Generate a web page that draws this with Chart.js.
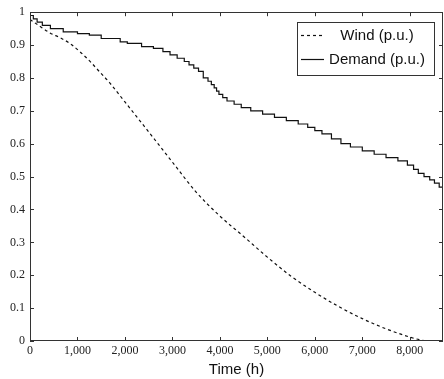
<!DOCTYPE html>
<html>
<head>
<meta charset="utf-8">
<script src="https://cdn.jsdelivr.net/npm/chart.js@4/dist/chart.umd.min.js"></script>
<style>
  html, body { margin: 0; padding: 0; background: #fff; }
  #wrap { width: 444px; height: 379px; }
</style>
</head>
<body>
<div id="wrap"><canvas id="durationChart"></canvas></div>
<script>
// duration curves, hours sorted by value (p.u.)
const windHours = [0, 200, 420, 640, 840, 1050, 1260, 1470, 1680, 2000, 2500, 3000, 3500,
    4000, 4500, 5000, 5500, 6000, 6500, 7000, 7500, 8000, 8200, 8400, 8700];
const windValues = [0.978, 0.958, 0.937, 0.922, 0.905, 0.88, 0.851, 0.818, 0.785, 0.727, 0.636, 0.544, 0.453,
    0.38, 0.318, 0.255, 0.197, 0.148, 0.105, 0.068, 0.037, 0.012, 0.004, 0.0, 0.0];

const demandHours = [0, 70, 150, 260, 430, 700, 1000, 1250, 1500, 1900, 2050, 2350, 2600, 2800, 2950, 3100, 3250, 3350,
    3450, 3550, 3650, 3750, 3820, 3880, 3930, 3980, 4060, 4150, 4300, 4450, 4650, 4900, 5150, 5400, 5650, 5850, 6000,
    6150, 6350, 6550, 6750, 7000, 7250, 7500, 7750, 7950, 8080, 8180, 8300, 8420, 8520, 8620, 8680];
const demandValues = [1.0, 0.99, 0.98, 0.97, 0.96, 0.95, 0.94, 0.935, 0.93, 0.92, 0.91, 0.905, 0.895, 0.89, 0.88, 0.87, 0.86, 0.85,
    0.84, 0.83, 0.82, 0.8, 0.79, 0.78, 0.77, 0.76, 0.75, 0.74, 0.73, 0.72, 0.71, 0.7, 0.69, 0.68, 0.67, 0.66, 0.65,
    0.64, 0.63, 0.615, 0.6, 0.59, 0.578, 0.568, 0.558, 0.548, 0.535, 0.522, 0.51, 0.5, 0.49, 0.48, 0.468];

const xMax = 8700;
const xTicks = [0, 1000, 2000, 3000, 4000, 5000, 6000, 7000, 8000];
const yTicks = [0, 0.1, 0.2, 0.3, 0.4, 0.5, 0.6, 0.7, 0.8, 0.9, 1];

const serif = '"Liberation Serif", "DejaVu Serif", serif';
const sans = '"Liberation Sans", "DejaVu Sans", sans-serif';

function toPoints(xs, ys) {
    return xs.map((h, i) => ({ x: h, y: ys[i] }));
}

// box round the plot with short inward ticks on every side
const frameTicks = {
    id: 'frameTicks',
    afterDatasetsDraw(chart) {
        const { ctx, chartArea: a, scales } = chart;
        ctx.save();
        ctx.strokeStyle = '#333';
        ctx.lineWidth = 1;
        ctx.beginPath();
        scales.x.ticks.forEach(t => {
            const px = Math.round(scales.x.getPixelForValue(t.value)) + 0.5;
            ctx.moveTo(px, a.bottom); ctx.lineTo(px, a.bottom - 4);
            ctx.moveTo(px, a.top); ctx.lineTo(px, a.top + 4);
        });
        scales.y.ticks.forEach(t => {
            const py = Math.round(scales.y.getPixelForValue(t.value)) + 0.5;
            ctx.moveTo(a.left, py); ctx.lineTo(a.left + 4, py);
            ctx.moveTo(a.right, py); ctx.lineTo(a.right - 4, py);
        });
        ctx.stroke();
        ctx.strokeRect(Math.round(a.left) + 0.5, Math.round(a.top) + 0.5,
            Math.round(a.right - a.left) - 1, Math.round(a.bottom - a.top) - 1);
        ctx.restore();
    }
};

// framed legend in the upper right corner
const boxLegend = {
    id: 'boxLegend',
    afterDraw(chart) {
        const { ctx } = chart;
        const left = 297, top = 22, w = 137, h = 53;
        const rows = [top + 13.5, top + 37.5];
        ctx.save();
        ctx.fillStyle = '#fff';
        ctx.fillRect(left, top, w, h);
        ctx.strokeStyle = '#333';
        ctx.lineWidth = 1;
        ctx.strokeRect(left + 0.5, top + 0.5, w, h);
        ctx.font = '15px ' + sans;
        ctx.textAlign = 'center';
        ctx.textBaseline = 'middle';
        chart.data.datasets.forEach((ds, i) => {
            const y = rows[i];
            ctx.strokeStyle = ds.borderColor;
            ctx.lineWidth = ds.borderWidth;
            ctx.setLineDash(ds.borderDash || []);
            ctx.beginPath();
            ctx.moveTo(left + 4, y);
            ctx.lineTo(left + 27, y);
            ctx.stroke();
            ctx.setLineDash([]);
            ctx.fillStyle = '#111';
            ctx.fillText(ds.label, left + 80, y);
        });
        ctx.restore();
    }
};

new Chart(document.getElementById('durationChart'), {
    type: 'line',
    data: {
        datasets: [{
            label: 'Wind (p.u.)',
            data: toPoints(windHours, windValues),
            borderColor: '#111',
            borderWidth: 1.2,
            borderDash: [3, 3],
            pointRadius: 0,
            cubicInterpolationMode: 'monotone',
            fill: false
        }, {
            label: 'Demand (p.u.)',
            data: toPoints(demandHours, demandValues),
            borderColor: '#111',
            borderWidth: 1.2,
            pointRadius: 0,
            stepped: 'after',
            fill: false
        }]
    },
    options: {
        responsive: true,
        maintainAspectRatio: false,
        animation: false,
        layout: { padding: { top: 12, right: 1, left: 0, bottom: 0 } },
        plugins: {
            legend: { display: false },
            tooltip: { enabled: false }
        },
        scales: {
            x: {
                type: 'linear',
                min: 0,
                max: xMax,
                border: { display: false },
                grid: { display: false, drawTicks: false },
                afterFit(scale) { scale.height = 38; },
                afterBuildTicks(scale) { scale.ticks = xTicks.map(v => ({ value: v })); },
                ticks: {
                    autoSkip: false,
                    padding: 3,
                    color: '#222',
                    font: { family: serif, size: 12 },
                    maxRotation: 0,
                    callback: v => v.toLocaleString('en-US')
                },
                title: {
                    display: true,
                    text: 'Time (h)',
                    color: '#111',
                    font: { family: sans, size: 15 },
                    padding: { top: 0, bottom: 0 }
                }
            },
            y: {
                min: 0,
                max: 1,
                border: { display: false },
                grid: { display: false, drawTicks: false },
                afterFit(scale) { scale.width = 30; },
                afterBuildTicks(scale) { scale.ticks = yTicks.map(v => ({ value: v })); },
                ticks: {
                    autoSkip: false,
                    padding: 5,
                    color: '#222',
                    font: { family: serif, size: 12 },
                    callback: v => String(Math.round(v * 10) / 10)
                }
            }
        }
    },
    plugins: [frameTicks, boxLegend]
});
</script>
</body>
</html>
